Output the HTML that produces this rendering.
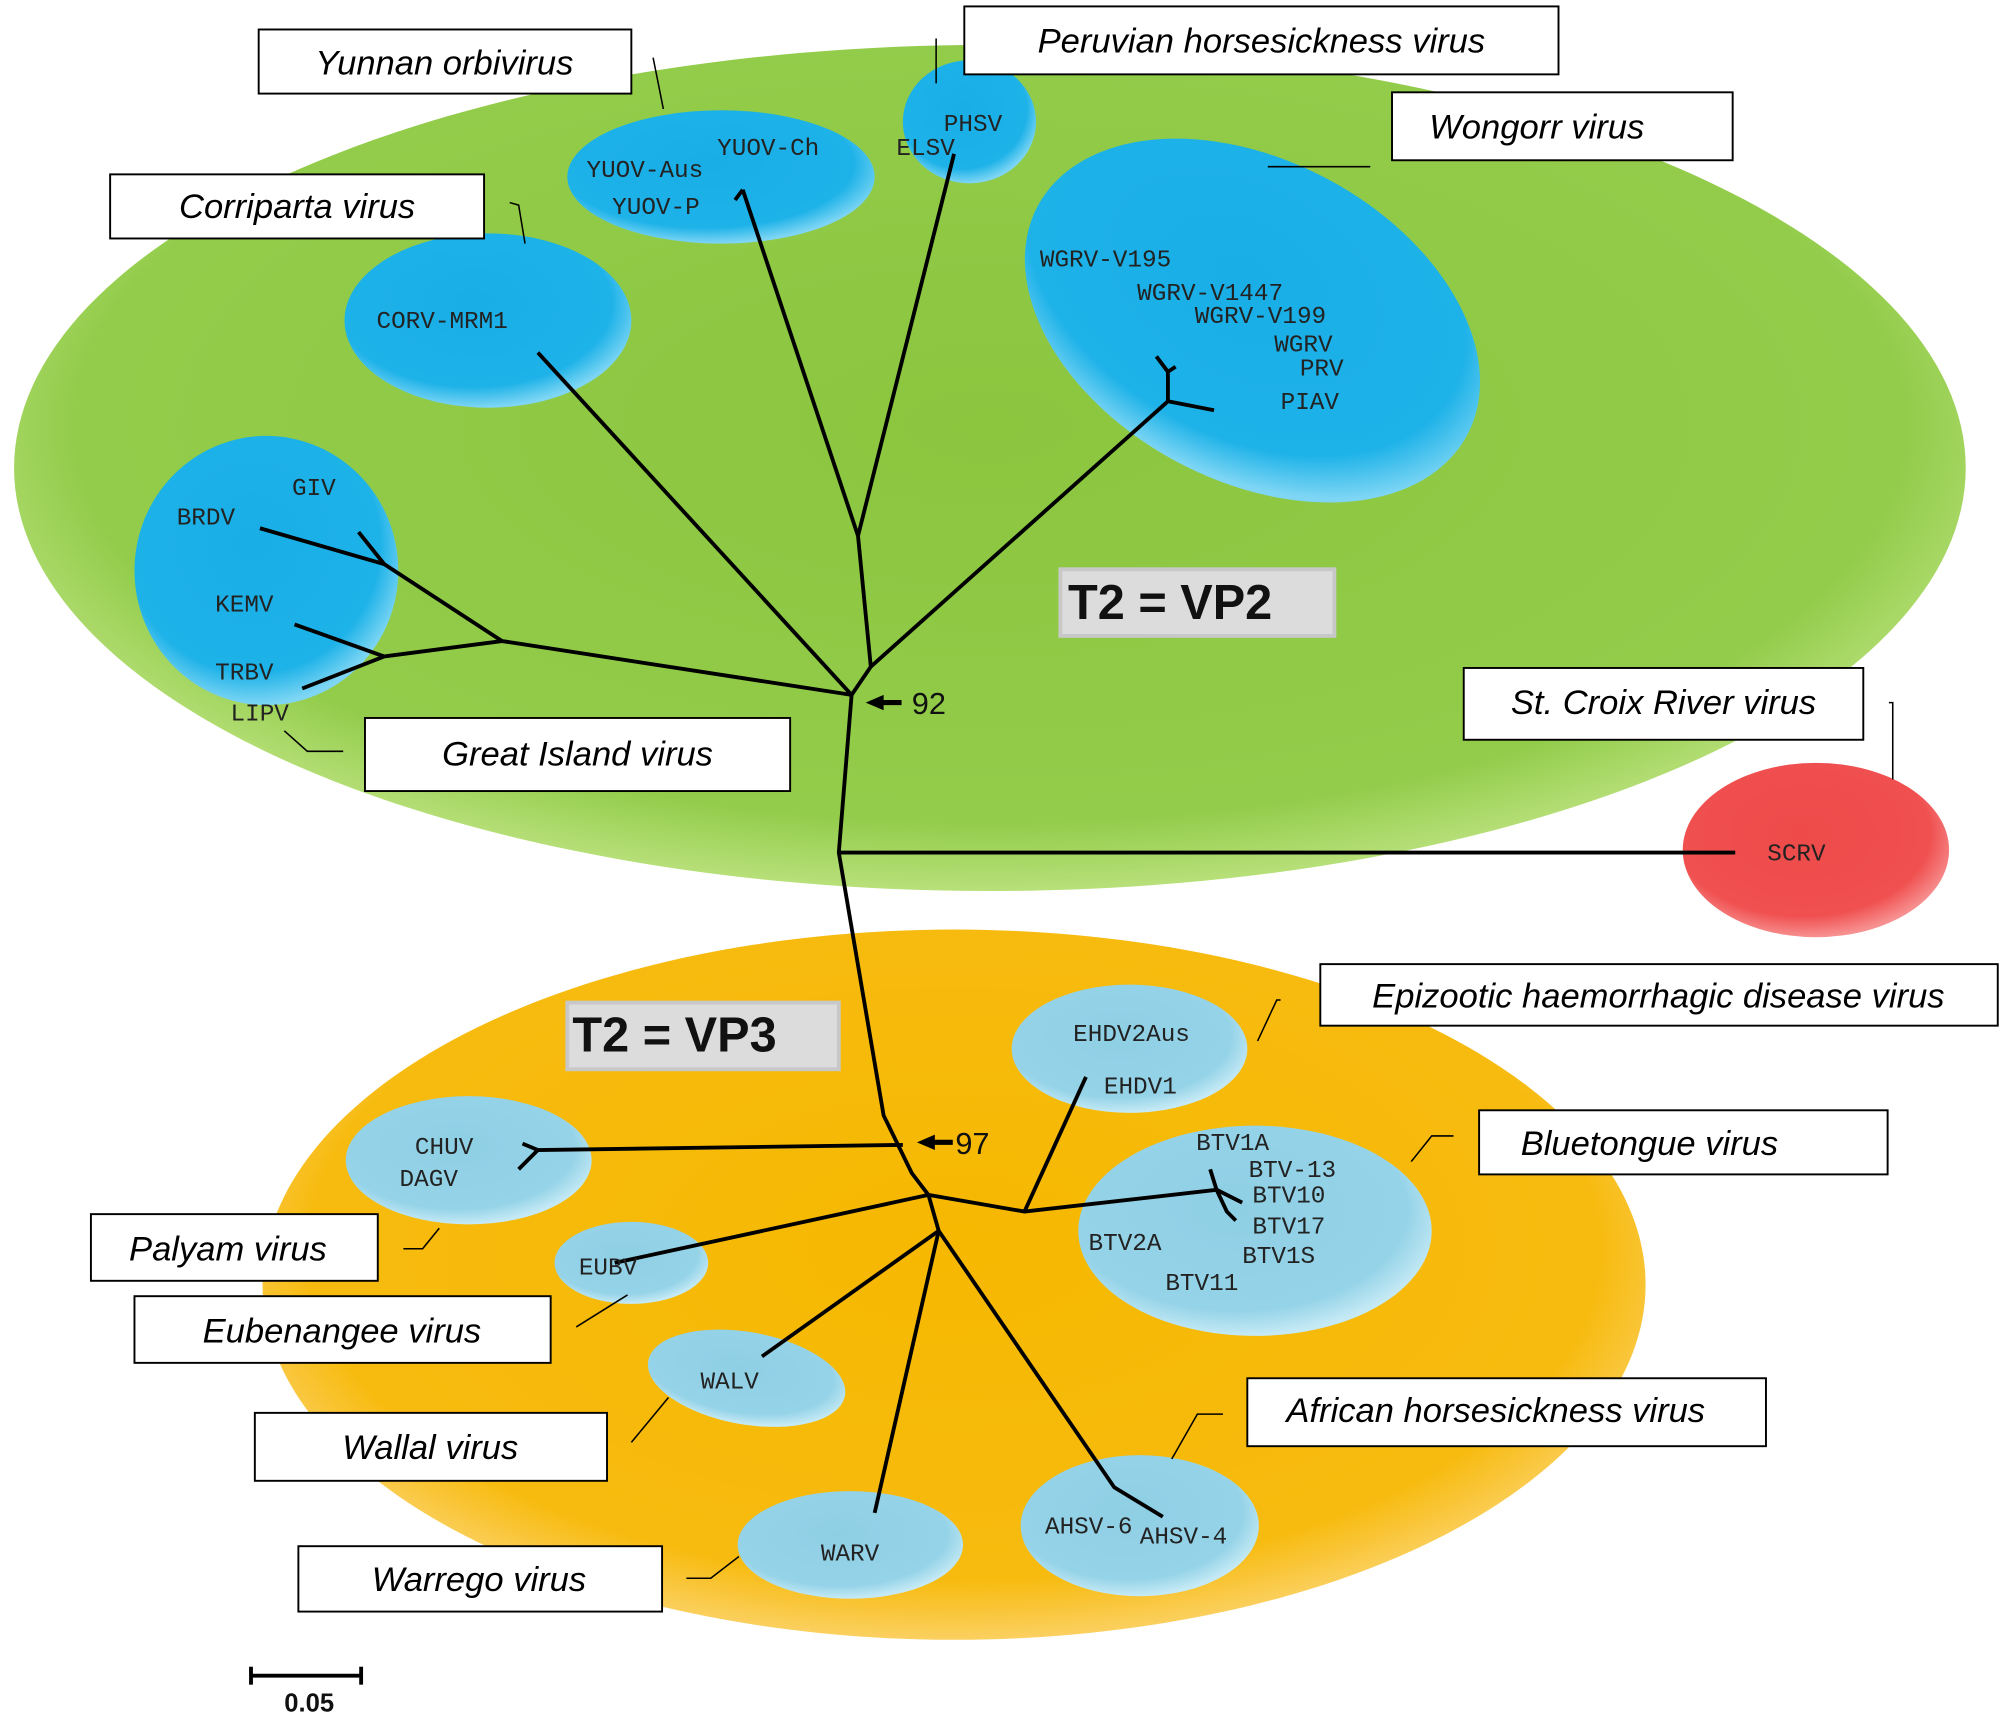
<!DOCTYPE html>
<html><head><meta charset="utf-8"><style>html,body{margin:0;padding:0;background:#fff}svg{display:block}</style></head>
<body>
<svg width="2008" height="1718" viewBox="0 0 1568 1340" preserveAspectRatio="none" xmlns="http://www.w3.org/2000/svg">
<defs>
<radialGradient id="g" cx="50%" cy="45%" r="55%"><stop offset="0" stop-color="#8cc63f"/><stop offset="0.85" stop-color="#92cc4a"/><stop offset="1" stop-color="#b8e07a"/></radialGradient>
<radialGradient id="o" cx="50%" cy="45%" r="55%"><stop offset="0" stop-color="#f6b800"/><stop offset="0.85" stop-color="#f7bb10"/><stop offset="1" stop-color="#fbd060"/></radialGradient>
<radialGradient id="b" cx="45%" cy="40%" r="60%"><stop offset="0" stop-color="#19aee6"/><stop offset="0.8" stop-color="#1db2e8"/><stop offset="1" stop-color="#7fd6f4"/></radialGradient>
<radialGradient id="lb" cx="45%" cy="40%" r="60%"><stop offset="0" stop-color="#8fcfe4"/><stop offset="0.8" stop-color="#95d3e8"/><stop offset="1" stop-color="#c6eaf5"/></radialGradient>
<radialGradient id="r" cx="45%" cy="40%" r="60%"><stop offset="0" stop-color="#ee4a4a"/><stop offset="0.8" stop-color="#f05050"/><stop offset="1" stop-color="#f79090"/></radialGradient>
</defs>
<ellipse cx="773" cy="365" rx="762" ry="330" fill="url(#g)"/>
<ellipse cx="745" cy="1002" rx="540" ry="277" fill="url(#o)"/>
<ellipse cx="563" cy="138" rx="120" ry="52" fill="url(#b)"/>
<ellipse cx="757" cy="95" rx="52" ry="48" fill="url(#b)"/>
<ellipse cx="381" cy="250" rx="112" ry="68" fill="url(#b)"/>
<ellipse cx="978" cy="250" rx="190" ry="125" transform="rotate(28 978 250)" fill="url(#b)"/>
<ellipse cx="208" cy="445" rx="103" ry="105" fill="url(#b)"/>
<ellipse cx="1418" cy="663" rx="104" ry="68" fill="url(#r)"/>
<ellipse cx="882" cy="818" rx="92" ry="50" fill="url(#lb)"/>
<ellipse cx="980" cy="960" rx="138" ry="82" fill="url(#lb)"/>
<ellipse cx="366" cy="905" rx="96" ry="50" fill="url(#lb)"/>
<ellipse cx="493" cy="985" rx="60" ry="32" fill="url(#lb)"/>
<ellipse cx="583" cy="1075" rx="78" ry="36" transform="rotate(10 583 1075)" fill="url(#lb)"/>
<ellipse cx="664" cy="1205" rx="88" ry="42" fill="url(#lb)"/>
<ellipse cx="890" cy="1190" rx="93" ry="55" fill="url(#lb)"/>
<g stroke="#000" stroke-width="3" fill="none" stroke-linejoin="round">
<polyline points="665,542 655,665 690,870 712,915 725,932"/>
<line x1="665" y1="542" x2="420" y2="275"/>
<polyline points="665,542 392,500 300,440 280,415"/>
<line x1="300" y1="440" x2="203" y2="412"/>
<polyline points="392,500 300,512 236,537"/>
<line x1="300" y1="512" x2="230" y2="487"/>
<polyline points="665,542 680,520 670,418 580,148"/>
<line x1="580" y1="148" x2="574" y2="156"/>
<line x1="670" y1="418" x2="745" y2="120"/>
<polyline points="680,520 912,313 948,320"/>
<polyline points="912,313 912,290 903,278"/>
<line x1="912" y1="290" x2="918" y2="286"/>
<line x1="655" y1="665" x2="1355" y2="665"/>
<polyline points="705,893 420,897 405,912"/>
<line x1="420" y1="897" x2="408" y2="892"/>
<line x1="725" y1="932" x2="480" y2="985"/>
<polyline points="725,932 800,945 950,928"/>
<polyline points="950,928 958,945 965,952"/>
<line x1="950" y1="928" x2="970" y2="938"/>
<line x1="950" y1="928" x2="945" y2="912"/>
<line x1="800" y1="945" x2="848" y2="840"/>
<polyline points="725,932 733,960 595,1058"/>
<line x1="733" y1="960" x2="683" y2="1180"/>
<polyline points="733,960 870,1160 908,1183"/>
</g>
<g stroke="#000" stroke-width="1.2" fill="none">
<polyline points="510,45 512,55 518,85"/>
<polyline points="731,30 731,65"/>
<line x1="990" y1="130" x2="1070" y2="130"/>
<polyline points="398,158 405,160 410,190"/>
<polyline points="268,586 240,586 222,570"/>
<polyline points="1475,548 1478,548 1478,608"/>
<polyline points="1000,780 997,780 982,812"/>
<polyline points="1135,886 1118,886 1102,906"/>
<polyline points="315,974 330,974 343,958"/>
<line x1="450" y1="1035" x2="490" y2="1010"/>
<line x1="493" y1="1125" x2="522" y2="1090"/>
<polyline points="955,1103 935,1103 915,1138"/>
<polyline points="536,1231 555,1231 577,1214"/>
<line x1="195" y1="1307" x2="283" y2="1307" stroke-width="3"/>
<line x1="196" y1="1300" x2="196" y2="1314" stroke-width="3"/>
<line x1="282" y1="1300" x2="282" y2="1314" stroke-width="3"/>
</g>
<path d="M676,548 L690,542 L690,546 L704,546 L704,550 L690,550 L690,554Z" fill="#000"/>
<path d="M716,891 L730,885 L730,889 L744,889 L744,893 L730,893 L730,897Z" fill="#000"/>
<g font-family="Liberation Sans, sans-serif" font-size="24" fill="#111"><text x="712" y="557">92</text><text x="746" y="900">97</text><text x="222" y="1335" font-size="20" font-weight="bold">0.05</text></g>
<g fill="#fff" stroke="#000" stroke-width="1.5">
<rect x="202" y="23" width="291" height="50"/><rect x="753" y="5" width="464" height="53"/><rect x="1087" y="72" width="266" height="53"/>
<rect x="86" y="136" width="292" height="50"/><rect x="285" y="560" width="332" height="57"/><rect x="1143" y="521" width="312" height="56"/>
<rect x="1031" y="752" width="529" height="48"/><rect x="1155" y="866" width="319" height="50"/><rect x="71" y="947" width="224" height="52"/>
<rect x="105" y="1011" width="325" height="52"/><rect x="199" y="1102" width="275" height="53"/><rect x="974" y="1075" width="405" height="53"/>
<rect x="233" y="1206" width="284" height="51"/>
</g>
<rect x="828" y="444" width="214" height="52" fill="#dcdcdc" stroke="#c8c8c8" stroke-width="3"/>
<rect x="443" y="782" width="212" height="52" fill="#dcdcdc" stroke="#c8c8c8" stroke-width="3"/>
<g font-family="Liberation Sans, sans-serif" font-weight="bold" font-size="38" fill="#111"><text x="834" y="483">T2 = VP2</text><text x="447" y="820">T2 = VP3</text></g>
<g font-family="Liberation Sans, sans-serif" font-style="italic" font-size="27" fill="#000" text-anchor="middle">
<text x="347" y="58">Yunnan orbivirus</text><text x="985" y="41">Peruvian  horsesickness  virus</text><text x="1200" y="108">Wongorr virus</text>
<text x="232" y="170">Corriparta virus</text><text x="451" y="597">Great Island virus</text><text x="1299" y="557">St. Croix River virus</text>
<text x="1295" y="786">Epizootic haemorrhagic disease  virus</text><text x="1288" y="901">Bluetongue  virus</text><text x="178" y="983">Palyam virus</text>
<text x="267" y="1047">Eubenangee  virus</text><text x="336" y="1138">Wallal virus</text><text x="1168" y="1109">African horsesickness  virus</text>
<text x="374" y="1241">Warrego virus</text>
</g>
<g font-family="Liberation Mono, monospace" font-size="19" fill="#222">
<text x="458" y="138">YUOV-Aus</text><text x="560" y="121">YUOV-Ch</text><text x="478" y="167">YUOV-P</text>
<text x="737" y="102">PHSV</text><text x="700" y="121">ELSV</text><text x="294" y="256">CORV-MRM1</text>
<text x="812" y="208">WGRV-V195</text><text x="888" y="234">WGRV-V1447</text><text x="933" y="252">WGRV-V199</text>
<text x="995" y="274">WGRV</text><text x="1015" y="293">PRV</text><text x="1000" y="319">PIAV</text>
<text x="228" y="386">GIV</text><text x="138" y="409">BRDV</text><text x="168" y="477">KEMV</text><text x="168" y="530">TRBV</text><text x="180" y="562">LIPV</text>
<text x="1380" y="671">SCRV</text><text x="838" y="812">EHDV2Aus</text><text x="862" y="853">EHDV1</text>
<text x="934" y="897">BTV1A</text><text x="975" y="918">BTV-13</text><text x="978" y="938">BTV10</text><text x="978" y="962">BTV17</text>
<text x="850" y="975">BTV2A</text><text x="970" y="985">BTV1S</text><text x="910" y="1006">BTV11</text>
<text x="324" y="900">CHUV</text><text x="312" y="925">DAGV</text><text x="452" y="994">EUBV</text><text x="547" y="1083">WALV</text>
<text x="641" y="1217">WARV</text><text x="816" y="1196">AHSV-6</text><text x="890" y="1204">AHSV-4</text>
</g>
</svg>
</body></html>
